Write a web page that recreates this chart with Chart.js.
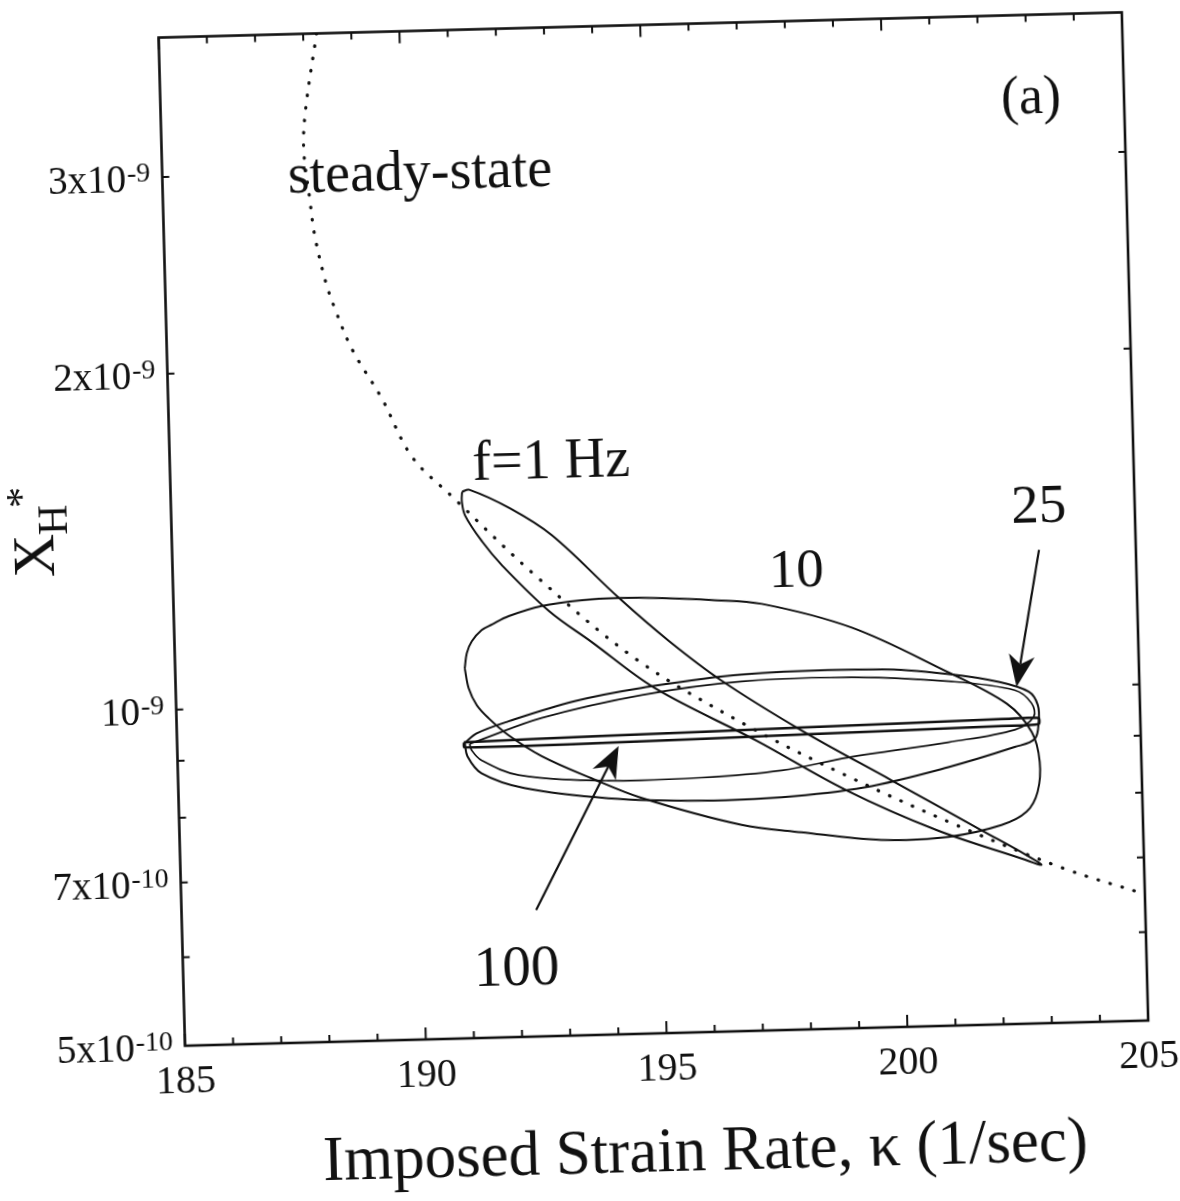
<!DOCTYPE html>
<html>
<head>
<meta charset="utf-8">
<script src="https://cdn.jsdelivr.net/npm/chart.js@4.4.1/dist/chart.umd.min.js"></script>
<style>
  html, body { margin: 0; padding: 0; background: #fff; overflow: hidden; }
  #wrap { width: 1180px; height: 1201px; transform: rotate(-1.5deg); transform-origin: 590px 600.5px; }
  canvas { display: block; }
</style>
</head>
<body>
<div id="wrap"><canvas id="c" width="1180" height="1201"></canvas></div>
<script>
// ---------------- axis ranges and ticks ----------------
const kappaMin = 185, kappaMax = 205;
const xhMin = 5e-10, xhMax = 4e-9;
const xMajorTicks = [185, 190, 195, 200, 205];
const xMinorTicks = [186, 187, 188, 189, 191, 192, 193, 194, 196, 197, 198, 199, 201, 202, 203, 204];
const yLabeledTicks = [5e-10, 7e-10, 1e-9, 2e-9, 3e-9];
const yLabelMantissa = ['5x10', '7x10', '10', '2x10', '3x10'];
const yLabelExponent = ['-10', '-10', '-9', '-9', '-9'];
const yMinorTicks = [6e-10, 8e-10, 9e-10];

// ---------------- series (kappa, X_H*) ----------------
const ssKappa = [188.28, 188.01, 187.95, 188.05, 188.13, 188.33, 188.52, 188.85, 189.44, 190.03, 190.84, 192.52, 194.54, 196.79, 198.87, 201.09, 203.34, 205.0];
const ssXH    = [4.0e-9, 3.42e-9, 3.15e-9, 2.84e-9, 2.64e-9, 2.40e-9, 2.26e-9, 2.08e-9, 1.877e-9, 1.663e-9, 1.529e-9, 1.294e-9, 1.085e-9, 9.41e-10, 8.42e-10, 7.57e-10, 6.87e-10, 6.49e-10];

const f1Kappa = [191.05, 191.20, 192.04, 192.89, 194.25, 195.26, 196.33, 197.97, 199.80, 201.64, 202.56, 202.87, 202.46, 200.71, 198.86, 197.03, 194.94, 193.66, 192.79, 191.84, 191.44, 191.10, 191.04, 191.05];
const f1XH    = [1.543e-9, 1.549e-9, 1.487e-9, 1.404e-9, 1.229e-9, 1.122e-9, 1.031e-9, 9.26e-10, 8.32e-10, 7.47e-10, 7.08e-10, 6.93e-10, 7.03e-10, 7.49e-10, 8.17e-10, 9.09e-10, 1.019e-9, 1.124e-9, 1.201e-9, 1.323e-9, 1.391e-9, 1.469e-9, 1.513e-9, 1.543e-9];

const f10Kappa = [191.01, 191.06, 191.17, 191.38, 191.60, 191.95, 192.64, 193.48, 194.25, 195.14, 196.17, 197.21, 199.06, 200.91, 202.24, 202.74, 202.89, 202.83, 202.59, 202.06, 200.95, 199.56, 197.91, 196.67, 194.61, 193.58, 192.56, 191.88, 191.48, 191.24, 191.08, 191.01];
const f10XH    = [1.072e-9, 1.106e-9, 1.133e-9, 1.159e-9, 1.172e-9, 1.191e-9, 1.214e-9, 1.226e-9, 1.229e-9, 1.226e-9, 1.218e-9, 1.205e-9, 1.142e-9, 1.043e-9, 9.68e-10, 9.12e-10, 8.57e-10, 8.06e-10, 7.74e-10, 7.54e-10, 7.38e-10, 7.36e-10, 7.51e-10, 7.65e-10, 8.13e-10, 8.49e-10, 8.91e-10, 9.32e-10, 9.66e-10, 9.93e-10, 1.029e-9, 1.072e-9];

const f25aKappa = [190.97, 191.22, 191.89, 193.27, 194.67, 196.75, 199.66, 201.05, 202.08, 202.70, 202.88, 202.89, 202.80, 202.38, 200.99, 199.24, 197.51, 195.85, 193.92, 192.18, 191.30, 191.02, 190.97];
const f25aXH    = [9.19e-10, 9.37e-10, 9.59e-10, 9.96e-10, 1.020e-9, 1.043e-9, 1.046e-9, 1.032e-9, 1.013e-9, 9.91e-10, 9.64e-10, 9.31e-10, 8.99e-10, 8.85e-10, 8.52e-10, 8.21e-10, 8.08e-10, 8.06e-10, 8.14e-10, 8.35e-10, 8.63e-10, 8.94e-10, 9.19e-10];

const f25bKappa = [191.07, 191.38, 192.58, 194.67, 196.75, 199.03, 201.05, 202.41, 202.75, 202.79, 202.39, 201.01, 198.93, 197.53, 195.86, 193.93, 192.07, 191.31, 191.11, 191.07];
const f25bXH    = [9.17e-10, 9.27e-10, 9.64e-10, 1.005e-9, 1.028e-9, 1.031e-9, 1.017e-9, 9.95e-10, 9.68e-10, 9.41e-10, 9.17e-10, 8.97e-10, 8.74e-10, 8.54e-10, 8.45e-10, 8.44e-10, 8.58e-10, 8.86e-10, 9.05e-10, 9.17e-10];

const f100Kappa = [190.95, 193.81, 197.97, 202.12, 202.89, 202.89, 202.12, 197.96, 193.81, 190.96, 190.95];
const f100XH    = [9.205e-10, 9.257e-10, 9.319e-10, 9.381e-10, 9.384e-10, 9.268e-10, 9.247e-10, 9.185e-10, 9.124e-10, 9.110e-10, 9.205e-10];

// annotation arrows (tail -> tip), data coordinates
const arrow100 = [[192.36, 6.49e-10], [194.16, 9.06e-10]];
const arrow25  = [[202.99, 1.327e-9], [202.45, 1.0016e-9]];

// ---------------- build ----------------
const pts = (xs, ys) => xs.map((v, i) => ({x: v, y: ys[i]}));
const loopStyle = {showLine: true, pointRadius: 0, borderColor: '#111', borderWidth: 2, tension: 0.35, fill: false};

const datasets = [
  {label: 'steady-state', data: pts(ssKappa, ssXH), showLine: true, pointRadius: 0, borderColor: '#111',
   borderWidth: 3.2, borderDash: [0.5, 12], borderCapStyle: 'round', tension: 0.35, fill: false},
  Object.assign({label: 'f=1 Hz', data: pts(f1Kappa, f1XH)}, loopStyle),
  Object.assign({label: '10 Hz', data: pts(f10Kappa, f10XH)}, loopStyle),
  Object.assign({label: '25 Hz', data: pts(f25aKappa, f25aXH)}, loopStyle),
  Object.assign({label: '25 Hz (b)', data: pts(f25bKappa, f25bXH)}, loopStyle, {borderWidth: 1.7}),
  Object.assign({label: '100 Hz', data: pts(f100Kappa, f100XH)}, loopStyle, {borderWidth: 2.5, tension: 0.2})
];

const SERIF = '"Liberation Serif", "DejaVu Serif", serif';

function drawArrow(ctx, x0, y0, x1, y1) {
  const ang = Math.atan2(y1 - y0, x1 - x0);
  const L = 32, W = 13, N = 9;
  const bx = x1 - L * Math.cos(ang), by = y1 - L * Math.sin(ang);
  ctx.beginPath();
  ctx.moveTo(x0, y0);
  ctx.lineTo(x1 - (L - N) * Math.cos(ang), y1 - (L - N) * Math.sin(ang));
  ctx.lineWidth = 2.2;
  ctx.stroke();
  ctx.beginPath();
  ctx.moveTo(x1, y1);
  ctx.lineTo(bx - W * Math.sin(ang), by + W * Math.cos(ang));
  ctx.lineTo(x1 - (L - N) * Math.cos(ang), y1 - (L - N) * Math.sin(ang));
  ctx.lineTo(bx + W * Math.sin(ang), by - W * Math.cos(ang));
  ctx.closePath();
  ctx.fill();
}

const overlay = {
  id: 'overlay',
  afterDraw(chart) {
    const {ctx, chartArea: ca} = chart;
    const sx = chart.scales.x, sy = chart.scales.y;
    ctx.save();
    ctx.strokeStyle = '#111';
    ctx.fillStyle = '#111';
    // frame
    ctx.lineWidth = 2.6;
    ctx.strokeRect(ca.left, ca.top, ca.right - ca.left, ca.bottom - ca.top);
    // ticks (inward, mirrored)
    ctx.lineWidth = 2;
    ctx.beginPath();
    xMajorTicks.forEach(v => {
      const px = sx.getPixelForValue(v);
      ctx.moveTo(px, ca.bottom); ctx.lineTo(px, ca.bottom - 12);
      ctx.moveTo(px, ca.top); ctx.lineTo(px, ca.top + 12);
    });
    xMinorTicks.forEach(v => {
      const px = sx.getPixelForValue(v);
      ctx.moveTo(px, ca.bottom); ctx.lineTo(px, ca.bottom - 7);
      ctx.moveTo(px, ca.top); ctx.lineTo(px, ca.top + 7);
    });
    yLabeledTicks.concat(yMinorTicks).forEach(v => {
      const py = sy.getPixelForValue(v);
      ctx.moveTo(ca.left, py); ctx.lineTo(ca.left + 7, py);
      ctx.moveTo(ca.right, py); ctx.lineTo(ca.right - 7, py);
    });
    ctx.stroke();

    // x tick labels
    ctx.font = '40px ' + SERIF;
    ctx.textAlign = 'center';
    ctx.textBaseline = 'alphabetic';
    xMajorTicks.forEach(v => {
      ctx.fillText(String(v), sx.getPixelForValue(v), ca.bottom + 47);
    });

    // y tick labels with superscript exponents
    yLabeledTicks.forEach((v, i) => {
      const py = sy.getPixelForValue(v);
      const right = ca.left - 12;
      ctx.font = '28px ' + SERIF;
      const wSup = ctx.measureText(yLabelExponent[i]).width;
      ctx.textAlign = 'left';
      ctx.fillText(yLabelExponent[i], right - wSup, py + 4);
      ctx.font = '39px ' + SERIF;
      ctx.textAlign = 'right';
      ctx.fillText(yLabelMantissa[i], right - wSup - 1, py + 14);
    });

    // x axis title
    ctx.font = '63px ' + SERIF;
    ctx.textAlign = 'center';
    ctx.fillText('Imposed Strain Rate, \u03BA (1/sec)', 691, 1173);

    // y axis title X_H^* (rotated)
    ctx.textAlign = 'left';
    const rot = (txt, font, bx, by) => {
      ctx.save(); ctx.translate(bx, by); ctx.rotate(-Math.PI / 2);
      ctx.font = font; ctx.fillText(txt, 0, 0); ctx.restore();
    };
    rot('X', '60px ' + SERIF, 55, 563);
    rot('H', '42px ' + SERIF, 69, 521);
    rot('*', '42px ' + SERIF, 38, 493);

    // in-plot labels
    ctx.font = '56px ' + SERIF;
    ctx.textAlign = 'left';
    ctx.fillText('steady-state', 299, 185);
    ctx.fillText('f=1 Hz', 476, 477);
    ctx.textAlign = 'center';
    ctx.font = '55px ' + SERIF;
    ctx.fillText('10', 797, 592);
    ctx.fillText('25', 1041, 534);
    ctx.font = '57px ' + SERIF;
    ctx.fillText('100', 507, 983);
    ctx.font = '54px ' + SERIF;
    ctx.fillText('(a)', 1044, 125);

    // arrows
    [arrow100, arrow25].forEach(a => {
      drawArrow(ctx,
        sx.getPixelForValue(a[0][0]), sy.getPixelForValue(a[0][1]),
        sx.getPixelForValue(a[1][0]), sy.getPixelForValue(a[1][1]));
    });
    ctx.restore();
  }
};

new Chart(document.getElementById('c'), {
  type: 'scatter',
  data: {datasets},
  options: {
    responsive: false,
    animation: false,
    devicePixelRatio: 1,
    layout: {padding: {left: 173.5, top: 26.5, right: 43, bottom: 166}},
    plugins: {legend: {display: false}, tooltip: {enabled: false}},
    scales: {
      x: {type: 'linear', min: kappaMin, max: kappaMax, display: false},
      y: {type: 'logarithmic', min: xhMin, max: xhMax, display: false}
    }
  },
  plugins: [overlay]
});
</script>
</body>
</html>
